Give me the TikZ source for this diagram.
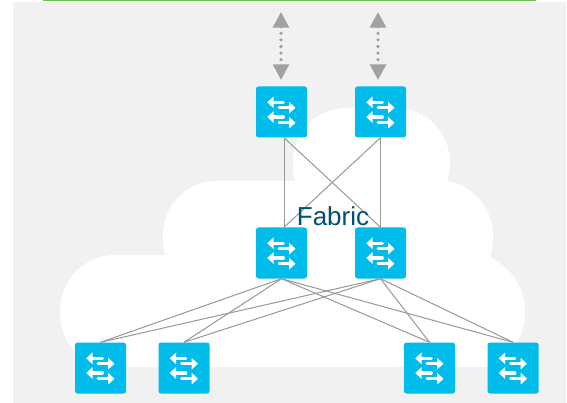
\documentclass[tikz,border=0pt]{standalone}
\usepackage{fontspec}
\setmainfont{Liberation Sans}
\usepackage{tikz}
\usetikzlibrary{arrows.meta}
\definecolor{panelgray}{HTML}{F1F1F1}
\definecolor{switchblue}{HTML}{00BCEB}
\definecolor{fabricblue}{HTML}{005073}
\definecolor{linkgray}{HTML}{989898}
\definecolor{uplinkgray}{HTML}{A0A0A5}
\definecolor{bargreen}{HTML}{6EBE4A}
\tikzset{
  iconarrow/.style={draw=white, line width=3.4pt, line cap=round, -{Triangle[length=6.5pt, width=11.5pt]}},
  switchbox/.style={fill=switchblue, rounded corners=2.5pt, minimum size=51pt, inner sep=0pt,
    path picture={
      \begin{scope}[shift={(path picture bounding box.center)}]
        \draw [iconarrow] (1.7,-9.7) -- (-14.3,-9.7);
        \draw [iconarrow] (-2.3,-4.3) -- (14,-4.3);
        \draw [iconarrow] (1.7,5) -- (-14.3,5);
        \draw [iconarrow] (-2.3,10.7) -- (14,10.7);
      \end{scope}}},
  link/.style={draw=linkgray, line width=1pt},
  uplink/.style={draw=uplinkgray, line width=3.6pt, line cap=round, dash pattern=on 0pt off 6.6pt,
    {Triangle[length=15.6pt, width=15.6pt, fill=uplinkgray]}-{Triangle[length=15.6pt, width=15.6pt, fill=uplinkgray]}}
}
\begin{document}
\begin{tikzpicture}[x=1pt, y=-1pt]
  \useasboundingbox (0,0) rectangle (567,403);
  \fill [panelgray] (13,2) rectangle (566,403);
  \fill [bargreen] (43,0) rectangle (536,1.2);

  % cloud
  \fill [white] (100,367) .. controls (76,360) and (60,338) .. (60,312)
    .. controls (60,280) and (84,255) .. (116,255) -- (165,255)
    .. controls (163,248) and (163,241) .. (163,235)
    .. controls (163,205) and (187,181) .. (217,181) -- (295,181)
    .. controls (293,175) and (293,169) .. (293,163)
    .. controls (293,132) and (316,108) .. (347,108) -- (395,108)
    .. controls (426,108) and (450,132) .. (450,163)
    .. controls (450,169) and (449,175) .. (447,181)
    .. controls (473,185) and (493,208) .. (493,236)
    .. controls (493,243) and (492,250) .. (490,257)
    .. controls (511,267) and (525,288) .. (525,312)
    .. controls (525,338) and (509,360) .. (485,367) -- cycle;

  \node [switchbox] (spine1) at (281.5,112) {};
  \node [switchbox] (spine2) at (380.5,112) {};
  \node [switchbox] (mid1) at (281.5,253) {};
  \node [switchbox] (mid2) at (380.5,253) {};
  \node [switchbox] (leaf1) at (100.5,368) {};
  \node [switchbox] (leaf2) at (184,368) {};
  \node [switchbox] (leaf3) at (429.5,368) {};
  \node [switchbox] (leaf4) at (513,368) {};

  \draw [link] ([xshift=2.5pt]spine1.south) -- ([xshift=2.5pt]mid1.north);
  \draw [link] ([xshift=2.5pt]spine1.south) -- (mid2.north);
  \draw [link] (spine2.south) -- ([xshift=2.5pt]mid1.north);
  \draw [link] (spine2.south) -- (mid2.north);
  \foreach \m in {mid1, mid2}
    \foreach \l in {leaf1, leaf2, leaf3, leaf4}
      \draw [link] (\m.south) -- (\l.north);

  \node [text=fabricblue, font=\fontsize{26}{26}\selectfont, anchor=center] (fabric) at (333,216) {Fabric};

  \coordinate (up1a) at (281,12);
  \coordinate (up1b) at (281,80);
  \coordinate (up2a) at (378,12);
  \coordinate (up2b) at (378,80);
  \draw [uplink] (up1a) -- (up1b);
  \draw [uplink] (up2a) -- (up2b);
\end{tikzpicture}
\end{document}
